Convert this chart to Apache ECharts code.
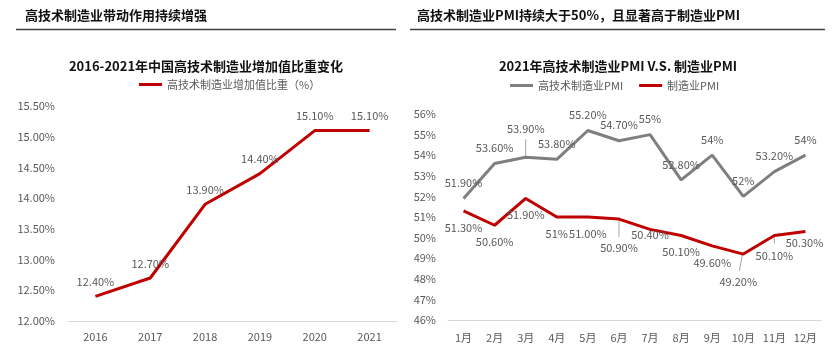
<!DOCTYPE html>
<html>
<head>
<meta charset="utf-8">
<script src="https://cdn.jsdelivr.net/npm/echarts@6/dist/echarts.min.js"></script>
<style>
html,body{margin:0;padding:0;background:#fff;}
#c{width:835px;height:364px;}
</style>
</head>
<body>
<div id="c"></div>
<script>
// ---------- data ----------
const years = ['2016', '2017', '2018', '2019', '2020', '2021'];
const shareValues = [12.4, 12.7, 13.9, 14.4, 15.1, 15.1];
const shareLabels = ['12.40%', '12.70%', '13.90%', '14.40%', '15.10%', '15.10%'];
const shareAxis = { min: 12, max: 15.5, step: 0.5 };

const months = ['1月', '2月', '3月', '4月', '5月', '6月', '7月', '8月', '9月', '10月', '11月', '12月'];
const hiTechPMI = [51.9, 53.6, 53.9, 53.8, 55.2, 54.7, 55, 52.8, 54, 52, 53.2, 54];
const hiTechLabels = ['51.90%', '53.60%', '53.90%', '53.80%', '55.20%', '54.70%', '55%', '52.80%', '54%', '52%', '53.20%', '54%'];
const mfgPMI = [51.3, 50.6, 51.9, 51, 51.0, 50.9, 50.4, 50.1, 49.6, 49.2, 50.1, 50.3];
const mfgLabels = ['51.30%', '50.60%', '51.90%', '51%', '51.00%', '50.90%', '50.40%', '50.10%', '49.60%', '49.20%', '50.10%', '50.30%'];
const pmiAxis = { min: 46, max: 56, step: 1 };

const headerLeft = '高技术制造业带动作用持续增强';
const headerRight = '高技术制造业PMI持续大于50%，且显著高于制造业PMI';
const titleLeft = '2016-2021年中国高技术制造业增加值比重变化';
const titleRight = '2021年高技术制造业PMI V.S. 制造业PMI';
const nameShare = '高技术制造业增加值比重（%）';
const nameHi = '高技术制造业PMI';
const nameMfg = '制造业PMI';

// ---------- styles ----------
const FONT = '"Noto Sans CJK SC", "Noto Sans", sans-serif';
const RED = '#C00000';
const GRAY = '#7F7F7F';
const TXT = '#595959';
const hiDist = { def: 10, 2: 23 };
const mfgDist = { def: 11, 5: 23, 6: 0, 9: 22, 10: 15, 11: 6 };
const mfgDx = { 9: -5, 11: -1 };
const leaders = [
  { s: 'hi', i: 2, dx0: 0, y0: -1, dx1: 0, y1: -18 },
  { s: 'mfg', i: 5, dx0: 0, y0: 1, dx1: 0, y1: 18 },
  { s: 'mfg', i: 9, dx0: -1, y0: 1, dx1: -4, y1: 17 },
  { s: 'mfg', i: 10, dx0: 0, y0: 1, dx1: 0, y1: 8 }
];

const chart = echarts.init(document.getElementById('c'), null, { renderer: 'canvas' });

function mkData(vals, labels, pos, dist, dx) {
  return vals.map((v, i) => ({
    value: v,
    label: {
      formatter: labels[i],
      position: pos,
      distance: dist[i] !== undefined ? dist[i] : dist.def,
      offset: [(dx && dx[i]) || 0, 0]
    }
  }));
}

const labelStyle = { show: true, color: TXT, fontSize: 11, fontFamily: FONT };
const axisLabelStyle = { color: TXT, fontSize: 11, fontFamily: FONT };

const option = {
  animation: false,
  backgroundColor: '#fff',
  textStyle: { fontFamily: FONT },
  graphic: [
    { type: 'text', x: 25, y: 15, style: { text: headerLeft, font: 'bold 13px ' + FONT, fill: '#111', textVerticalAlign: 'middle' } },
    { type: 'line', shape: { x1: 16, y1: 29.5, x2: 396, y2: 29.5 }, style: { stroke: '#404040', lineWidth: 1.5 } },
    { type: 'text', x: 417, y: 15, style: { text: headerRight, font: 'bold 13px ' + FONT, fill: '#111', textVerticalAlign: 'middle' } },
    { type: 'line', shape: { x1: 410, y1: 29.5, x2: 825, y2: 29.5 }, style: { stroke: '#404040', lineWidth: 1.5 } },
    { type: 'text', x: 206, y: 66, style: { text: titleLeft, font: 'bold 13px ' + FONT, fill: '#111', textAlign: 'center', textVerticalAlign: 'middle' } },
    { type: 'text', x: 618, y: 66, style: { text: titleRight, font: 'bold 13px ' + FONT, fill: '#111', textAlign: 'center', textVerticalAlign: 'middle' } }
  ],
  legend: [
    {
      data: [nameShare], left: 139, top: 79, itemWidth: 23, itemHeight: 3, icon: 'rect',
      textStyle: { color: TXT, fontSize: 11, fontFamily: FONT }, padding: 0
    },
    {
      data: [nameHi, nameMfg], left: 510, top: 80, itemWidth: 23, itemHeight: 3, icon: 'rect', itemGap: 16,
      textStyle: { color: TXT, fontSize: 11, fontFamily: FONT }, padding: 0
    }
  ],
  grid: [
    { left: 68, right: 438, top: 106, bottom: 43 },
    { left: 448, right: 14, top: 114, bottom: 44 }
  ],
  xAxis: [
    {
      gridIndex: 0, type: 'category', data: years, boundaryGap: true,
      axisLine: { lineStyle: { color: '#D9D9D9', width: 1 } }, axisTick: { show: false },
      axisLabel: Object.assign({ margin: 10 }, axisLabelStyle)
    },
    {
      gridIndex: 1, type: 'category', data: months, boundaryGap: true,
      axisLine: { lineStyle: { color: '#D9D9D9', width: 1 } }, axisTick: { show: false },
      axisLabel: Object.assign({ margin: 12, interval: 0 }, axisLabelStyle)
    }
  ],
  yAxis: [
    {
      gridIndex: 0, type: 'value', min: shareAxis.min, max: shareAxis.max, interval: shareAxis.step,
      splitLine: { show: false }, axisLine: { show: false }, axisTick: { show: false },
      axisLabel: Object.assign({ margin: 13, formatter: v => v.toFixed(2) + '%' }, axisLabelStyle)
    },
    {
      gridIndex: 1, type: 'value', min: pmiAxis.min, max: pmiAxis.max, interval: pmiAxis.step,
      splitLine: { show: false }, axisLine: { show: false }, axisTick: { show: false },
      axisLabel: Object.assign({ margin: 12, formatter: v => v + '%' }, axisLabelStyle)
    }
  ],
  series: [
    {
      name: nameShare, type: 'line', xAxisIndex: 0, yAxisIndex: 0,
      data: mkData(shareValues, shareLabels, 'top', { def: 9 }),
      symbol: 'circle', symbolSize: 0, showSymbol: true,
      lineStyle: { color: RED, width: 3 }, itemStyle: { color: RED },
      label: labelStyle
    },
    {
      name: nameHi, type: 'line', xAxisIndex: 1, yAxisIndex: 1,
      data: mkData(hiTechPMI, hiTechLabels, 'top', hiDist),
      symbol: 'circle', symbolSize: 0, showSymbol: true,
      lineStyle: { color: GRAY, width: 3 }, itemStyle: { color: GRAY },
      label: labelStyle
    },
    {
      name: nameMfg, type: 'line', xAxisIndex: 1, yAxisIndex: 1,
      data: mkData(mfgPMI, mfgLabels, 'bottom', mfgDist, mfgDx),
      symbol: 'circle', symbolSize: 0, showSymbol: true,
      lineStyle: { color: RED, width: 3 }, itemStyle: { color: RED },
      label: labelStyle
    },
    {
      type: 'custom', xAxisIndex: 1, yAxisIndex: 1, silent: true, z: 1,
      data: leaders.map((l, k) => [l.i, (l.s === 'hi' ? hiTechPMI : mfgPMI)[l.i], k]),
      renderItem: function (params, api) {
        const l = leaders[api.value(2)];
        const p = api.coord([api.value(0), api.value(1)]);
        return {
          type: 'line',
          shape: { x1: p[0] + l.dx0, y1: p[1] + l.y0, x2: p[0] + l.dx1, y2: p[1] + l.y1 },
          style: { stroke: '#A6A6A6', lineWidth: 1 }
        };
      }
    }
  ]
};
chart.setOption(option);
</script>
</body>
</html>
